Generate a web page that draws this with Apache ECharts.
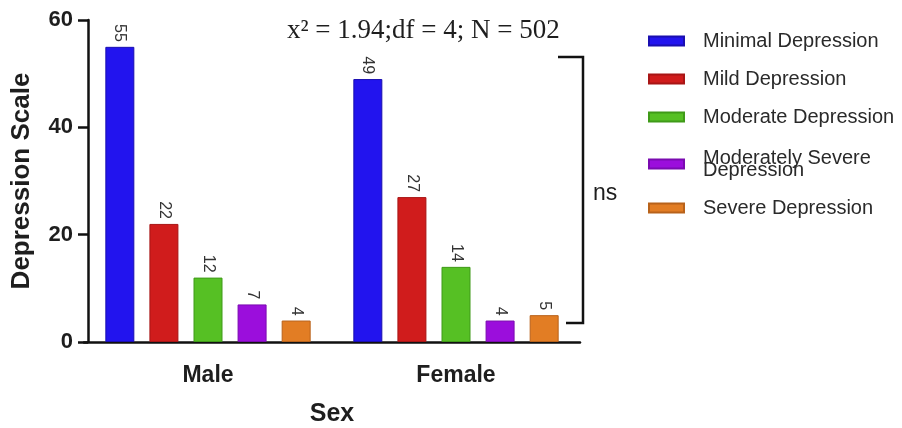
<!DOCTYPE html>
<html>
<head>
<meta charset="utf-8">
<script src="https://cdn.jsdelivr.net/npm/echarts@6/dist/echarts.min.js"></script>
<style>
  html, body { margin: 0; padding: 0; background: #fff; }
  #chart { width: 902px; height: 428px; }
</style>
</head>
<body>
<div id="chart"></div>
<script>
// Depression severity counts by sex
const categories = ['Male', 'Female'];
const seriesNames = [
  'Minimal Depression',
  'Mild Depression',
  'Moderate Depression',
  'Moderately Severe\nDepression',
  'Severe Depression'
];
const minimal = [55, 49];
const mild = [22, 27];
const moderate = [12, 14];
const modSevere = [7, 4];
const severe = [4, 5];
const yTicks = [0, 20, 40, 60];

const seriesValues = [minimal, mild, moderate, modSevere, severe];
const colors = ['#2214ee', '#d01c1c', '#56c024', '#9b0edc', '#e27d24'];
const edges = ['#1a0fb0', '#a81515', '#3f9a18', '#7a0bb0', '#b8621a'];

const chart = echarts.init(document.getElementById('chart'));

const font = 'Liberation Sans, Arial, sans-serif';

// one legend block per series so each entry sits on its own row
const legendCenters = [41, 79, 117, 160, 208];
const legends = seriesNames.map((name, i) => {
  const twoLine = name.indexOf('\n') >= 0;
  const lh = twoLine ? 12 : 22;
  const h = twoLine ? 24 : 22;
  return {
    data: [name],
    left: 648,
    top: legendCenters[i] - h / 2,
    padding: 0,
    orient: 'vertical',
    icon: 'rect',
    itemWidth: 35,
    itemHeight: 9,
    itemGap: 0,
    selectedMode: false,
    textStyle: { fontFamily: font, fontSize: 20, color: '#2a2a2a', lineHeight: lh, padding: [0, 0, 0, 14] }
  };
});

const series = seriesNames.map((name, i) => ({
  name: name,
  type: 'bar',
  data: seriesValues[i],
  barWidth: 29,
  barGap: '52%',
  itemStyle: { color: colors[i], borderColor: edges[i], borderWidth: 1 },
  label: {
    show: true,
    position: 'top',
    rotate: -90,
    distance: 5,
    align: 'right',
    verticalAlign: 'middle',
    fontFamily: font,
    fontSize: 16,
    color: '#333'
  }
}));

chart.setOption({
  backgroundColor: '#fff',
  animation: false,
  grid: { left: 84, right: 322, top: 20, bottom: 86, containLabel: false, outerBoundsMode: 'none' },
  legend: legends,
  xAxis: {
    type: 'category',
    data: categories,
    name: 'Sex',
    nameLocation: 'middle',
    nameGap: 60,
    nameTextStyle: { fontFamily: font, fontSize: 25, fontWeight: 'bold', color: '#1e1e1e' },
    axisLine: { lineStyle: { color: '#111', width: 2.5 } },
    axisTick: { alignWithLabel: true, length: 11, lineStyle: { color: '#111', width: 2.5 } },
    axisLabel: { fontFamily: font, fontSize: 23, fontWeight: 'bold', color: '#1e1e1e', margin: 22 }
  },
  yAxis: {
    type: 'value',
    min: 0,
    max: 60,
    interval: 20,
    offset: -4,
    name: 'Depression Scale',
    nameLocation: 'middle',
    nameGap: 53,
    nameTextStyle: { fontFamily: font, fontSize: 26, fontWeight: 'bold', color: '#1e1e1e' },
    splitLine: { show: false },
    axisLine: { show: true, lineStyle: { color: '#111', width: 2.5 } },
    axisTick: { show: true, length: 10, lineStyle: { color: '#111', width: 2.5 } },
    axisLabel: {
      fontFamily: font, fontSize: 22, fontWeight: 'bold', color: '#1e1e1e', margin: 15,
      formatter: v => (yTicks.indexOf(v) >= 0 ? String(v) : '')
    }
  },
  series: series,
  graphic: [
    {
      type: 'text',
      x: 287,
      y: 31,
      style: {
        text: 'x\u00b2 = 1.94;df = 4; N = 502',
        fontFamily: 'Liberation Serif, Times New Roman, serif',
        fontSize: 27,
        fill: '#1e1e1e',
        verticalAlign: 'middle'
      }
    },
    {
      type: 'polyline',
      shape: { points: [[558, 57], [583, 57], [583, 323], [566, 323]] },
      style: { stroke: '#111', lineWidth: 2.5, fill: null }
    },
    {
      type: 'text',
      x: 593,
      y: 194,
      style: { text: 'ns', fontFamily: font, fontSize: 23, fill: '#1e1e1e', verticalAlign: 'middle' }
    }
  ]
});
</script>
</body>
</html>
